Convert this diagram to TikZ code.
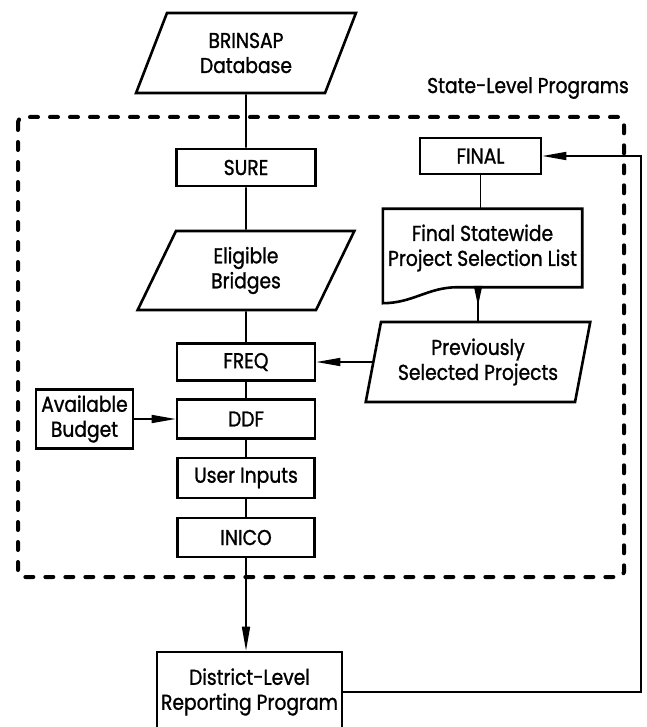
\documentclass[tikz,border=0pt]{standalone}
\usepackage{fontspec}
\setmainfont{Poppins}[FakeStretch=0.87,FakeBold=1.2]
\usetikzlibrary{arrows.meta,shapes.geometric,calc,decorations.markings}

\begin{document}
\begin{tikzpicture}[x=1pt,y=-1pt,
  every node/.style={font=\fontsize{21.5}{25}\selectfont},
  box/.style={draw, line width=2.6pt, inner sep=1pt, align=center},
  para/.style={draw, line width=2.6pt, trapezium, trapezium stretches=true,
    inner sep=0pt, align=center},
  conn/.style={line width=1.6pt},
  tip/.style={-{Triangle[length=24pt,width=8pt]}},
  dashborder/.style={line width=4pt, dash pattern=on 8pt off 12pt,
    line cap=round, rounded corners=5pt}
]
\clip (0,0) rectangle (646,727);

% state-level boundary
\draw[dashborder] (18,117) rectangle (624,577);
\node (slp) at (528,88) {State-Level Programs};

% main column
\node[para, trapezium left angle=66, trapezium right angle=114,
  minimum width=220, minimum height=80] (brinsap) at (246,53) {BRINSAP\\Database};
\node[box, minimum width=139, minimum height=37] (sure) at (246,167.5) {SURE};
\node[para, trapezium left angle=68, trapezium right angle=112,
  minimum width=217, minimum height=79] (elig) at (246,270.5) {Eligible\\Bridges};
\node[box, minimum width=138, minimum height=37] (freq) at (246,362) {FREQ};
\node[box, minimum width=138, minimum height=39] (ddf) at (246,419) {DDF};
\node[box, minimum width=137, minimum height=40] (user) at (246,478) {User Inputs};
\node[box, minimum width=137, minimum height=39] (inico) at (246,537.5) {INICO};
\node[box, minimum width=185, minimum height=80] (dist) at (249.5,692)
  {District-Level\\Reporting Program};
\node[box, minimum width=97, minimum height=59] (budget) at (84.5,419)
  {Available\\Budget};

% right column
\node[box, minimum width=121, minimum height=36] (final) at (480.5,156) {FINAL};
\node[minimum width=199, minimum height=78, inner sep=0pt, align=center]
  (doc) at (482.5,248) {Final Statewide\\Project Selection List};
\draw[line width=2.6pt] (doc.north west) -- (doc.north east) -- (doc.south east)
  -- ($(doc.south west)+(75,0)$)
  .. controls ($(doc.south west)+(45,0)$) and ($(doc.south west)+(30,16)$)
  .. ($(doc.south west)+(0,16)$) -- cycle;
\node[para, trapezium left angle=75, trapezium right angle=105,
  minimum width=225, minimum height=80] (prev) at (478,362)
  {Previously\\Selected Projects};

% connectors
\draw[conn] (brinsap.south) -- (sure.north);
\draw[conn] (sure.south) -- (elig.north);
\draw[conn] (elig.south) -- (freq.north);
\draw[conn] (freq.south) -- (ddf.north);
\draw[conn] (ddf.south) -- (user.north);
\draw[conn] (user.south) -- (inico.north);
\draw[conn,tip] (inico.south) -- (inico.south |- dist.north);
\draw[conn,tip] (budget.east) -- (ddf.west);
\draw[conn,tip] (prev.west) -- (freq.east);
\draw[conn] (final.south) -- (final.south |- doc.north);
\draw[conn, postaction={decorate}, decoration={markings,
  mark=at position 0.56 with {\arrow{Triangle[length=20pt,width=8pt]}}}]
  (doc.south -| prev.north) -- (prev.north);
\coordinate (ret) at (641,156);
\draw[conn,tip] (dist.east) -| (ret) -- (final.east);
\end{tikzpicture}
\end{document}
